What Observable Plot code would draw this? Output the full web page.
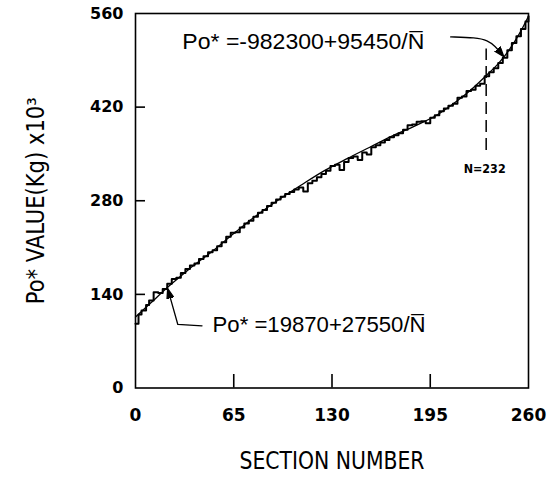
<!DOCTYPE html>
<html><head><meta charset="utf-8">
<script src="https://cdn.jsdelivr.net/npm/d3@7"></script>
<script src="https://cdn.jsdelivr.net/npm/@observablehq/plot@0.6"></script>
<style>body{margin:0;background:#fff}</style>
</head><body><div id="chart"></div>
<script>
// ---- data ----
const xTicks = [0, 65, 130, 195, 260];
const yTicks = [0, 140, 280, 420, 560];
const innerXTicks = [65, 130, 195];
const innerYTicks = [140, 280, 420];

// fitted smooth curve (section number, Po* x10^3 kg)
const curveN = [0, 10, 22, 35, 50, 65, 80, 95, 110, 125, 140, 155, 170, 185, 200, 212, 222, 231, 240, 247, 254, 260];
const curveV = [106, 127, 152, 177, 203, 231, 258, 282, 304, 325, 343, 360, 377, 392, 409, 428, 446, 465, 485, 505, 530, 556];

// measured stepped trace
const stepN = [0, 2, 4, 7, 9, 12, 15, 18, 21, 24, 27, 30, 33, 36, 39, 42, 45, 48, 51, 54, 57, 60, 63, 66, 69, 72, 75, 78, 81, 84, 87, 90, 93, 96, 99, 102, 105, 108, 111, 114, 117, 120, 123, 126, 129, 132, 135, 138, 141, 144, 147, 150, 153, 156, 159, 162, 165, 168, 171, 174, 177, 180, 183, 186, 189, 192, 195, 198, 201, 204, 207, 210, 213, 216, 219, 222, 225, 228, 231, 234, 237, 240, 243, 246, 249, 252, 255, 258, 260];
const stepV = [96, 110, 116, 124, 131, 143, 142, 148, 156, 163, 165, 172, 178, 183, 186, 193, 197, 203, 206, 212, 218, 226, 232, 233, 240, 246, 250, 256, 262, 266, 272, 277, 282, 286, 290, 293, 297, 300, 294, 306, 310, 315, 320, 325, 332, 334, 326, 338, 344, 346, 341, 352, 349, 360, 363, 367, 371, 375, 378, 381, 386, 393, 394, 398, 399, 396, 404, 408, 414, 418, 422, 425, 434, 436, 444, 446, 452, 455, 466, 472, 478, 486, 494, 505, 516, 526, 537, 548, 556];

const formulaTop = "Po* =-982300+95450/N\u0305";
const formulaBottom = "Po* =19870+27550/N\u0305";
const markerLabel = "N=232";
const markerN = [232];
const xTitle = "SECTION NUMBER";
const yTitle = "Po* VALUE(Kg) x10\u00B3";

const curve = curveN.map((n, i) => ({n, v: curveV[i]}));
const steps = stepN.map((n, i) => ({n, v: stepV[i]}));
const leaderTop = [{n: 208.5, v: 525}, {n: 225, v: 524}, {n: 233, v: 520}, {n: 238, v: 511}, {n: 242, v: 500}];
const leaderBottom = [{n: 44, v: 93}, {n: 28, v: 95}, {n: 22, v: 143}];

function filledArrow(color) {
  return d3.create("svg:marker")
    .attr("viewBox", "-6 -4 10 8")
    .attr("markerWidth", 10).attr("markerHeight", 8)
    .attr("markerUnits", "userSpaceOnUse")
    .attr("orient", "auto")
    .attr("fill", color)
    .call(m => m.append("path").attr("d", "M-6,-3.5L4,0L-6,3.5Z"))
    .node();
}

const W = 549, H = 483;
const mL = 135, mR = 21, mT = 13, mB = 95.5;
const fw = W - mL - mR, fh = H - mT - mB;

const chart = Plot.plot({
  width: W, height: H,
  marginLeft: mL, marginRight: mR, marginTop: mT, marginBottom: mB,
  style: {fontFamily: "DejaVu Sans", background: "#fff", color: "#000"},
  x: {domain: [0, 260]},
  y: {domain: [0, 560]},
  marks: [
    Plot.frame({strokeWidth: 1.6}),
    Plot.axisX({ticks: xTicks, tickSize: 0, tickPadding: 21, fontSize: 17, fontWeight: "bold", label: null}),
    Plot.axisY({ticks: yTicks, tickSize: 0, tickPadding: 12, fontSize: 16, fontWeight: "bold", label: null}),
    Plot.tickY(innerYTicks, {y: d => d, insetRight: fw - 10, strokeWidth: 1.6}),
    Plot.tickX(innerXTicks, {x: d => d, insetTop: fh - 13.5, strokeWidth: 1.6}),
    Plot.line(curve, {x: "n", y: "v", curve: "monotone-x", strokeWidth: 1.3}),
    Plot.line(steps, {x: "n", y: "v", curve: "step-after", strokeWidth: 2}),
    Plot.ruleX(markerN, {x: d => d, y1: 355, y2: 507, strokeDasharray: "12,6", strokeWidth: 1.5}),
    Plot.text([markerLabel], {x: markerN[0] - 1, y: 328, fontSize: 13, fontWeight: "bold"}),
    Plot.line(leaderTop, {x: "n", y: "v", curve: "basis", strokeWidth: 1.3, markerEnd: filledArrow}),
    Plot.line(leaderBottom, {x: "n", y: "v", curve: "linear", strokeWidth: 1.3, markerEnd: filledArrow}),
    Plot.text([formulaTop], {x: 31, y: 518, textAnchor: "start", fontSize: 22, fontFamily: "Liberation Sans"}),
    Plot.text([formulaBottom], {x: 51, y: 95, textAnchor: "start", fontSize: 22, fontFamily: "Liberation Sans"}),
    Plot.text([xTitle], {frameAnchor: "bottom", dy: 80.5, fontSize: 24, fontFamily: "Liberation Sans Narrow, DejaVu Sans Condensed"}),
    Plot.text([yTitle], {frameAnchor: "left", textAnchor: "middle", dx: -99, rotate: -90, fontSize: 24, fontFamily: "Liberation Sans Narrow, DejaVu Sans Condensed"})
  ]
});

// fit the long labels to the widths they have in the reference
const fit = new Map([[xTitle, 185], [yTitle, 207], [formulaTop, 242], [formulaBottom, 213], [markerLabel, 42]]);
chart.querySelectorAll("text").forEach(t => {
  const L = fit.get(t.textContent);
  if (L) { t.setAttribute("textLength", L); t.setAttribute("lengthAdjust", "spacingAndGlyphs"); }
});
document.getElementById("chart").appendChild(chart);
</script>
</body></html>
